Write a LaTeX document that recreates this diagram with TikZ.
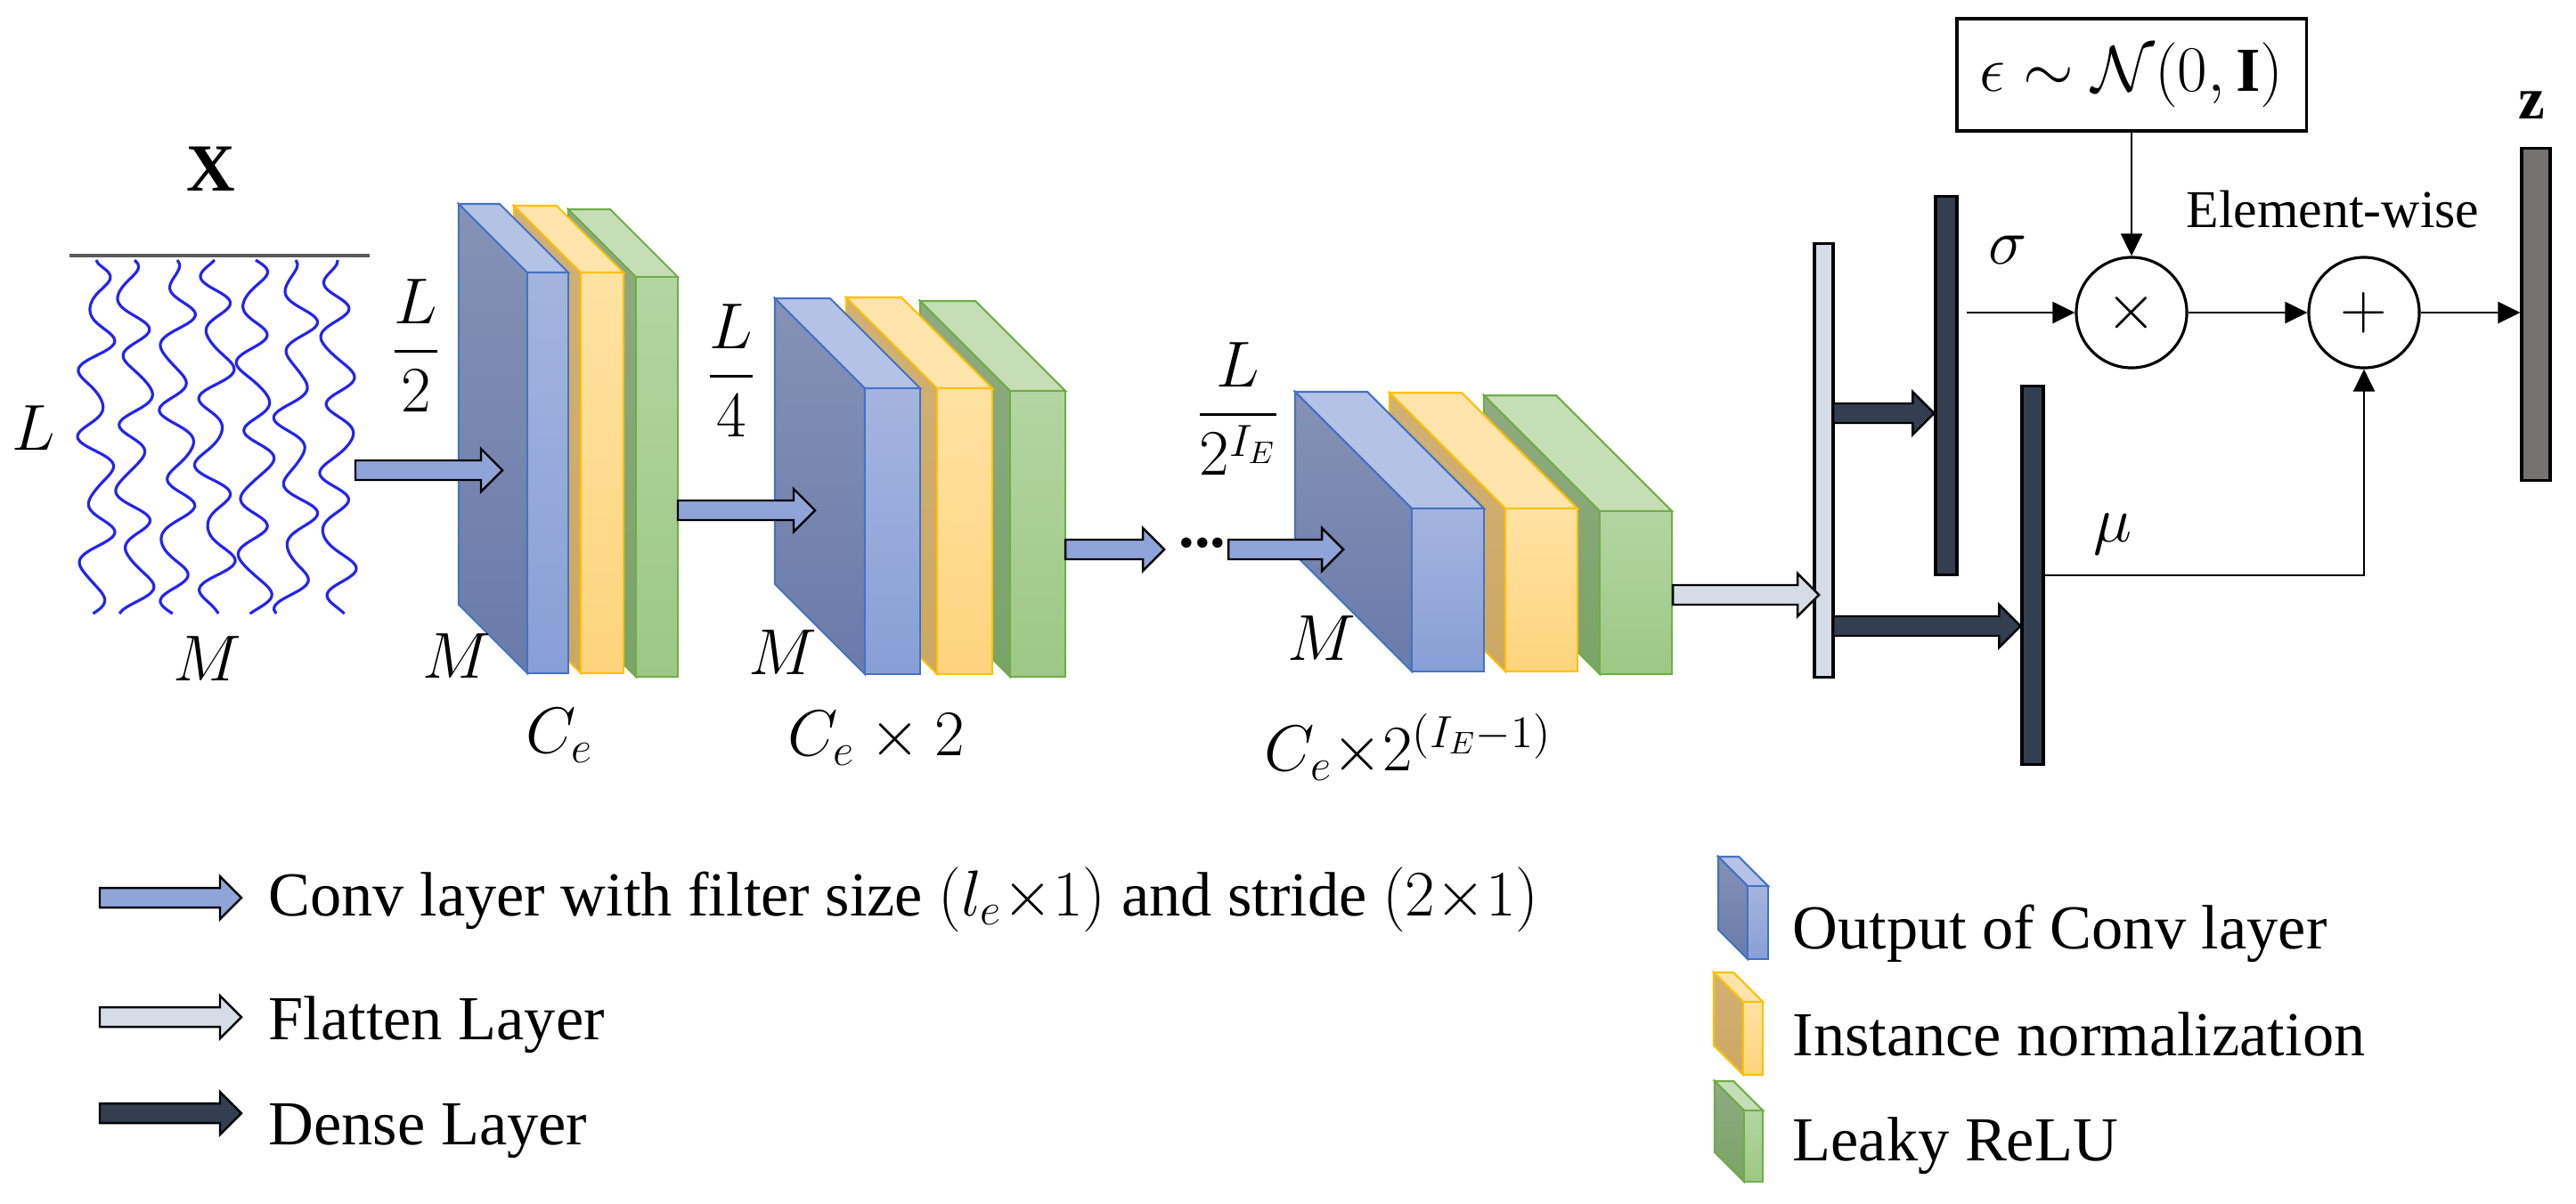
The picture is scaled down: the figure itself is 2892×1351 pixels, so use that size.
\documentclass[tikz,border=0pt]{standalone}
\usepackage{amsmath}
\usepackage{fontspec}
\setmainfont{Liberation Serif}
\usetikzlibrary{positioning,calc,arrows.meta}

\definecolor{bluefront1}{HTML}{A4B4DE}
\definecolor{bluefront2}{HTML}{889FD6}
\definecolor{blueside1}{HTML}{8592B5}
\definecolor{blueside2}{HTML}{6A7BAA}
\definecolor{bluetop}{HTML}{B4C3E5}
\definecolor{blueedge}{HTML}{4472C4}
\definecolor{yellowfront1}{HTML}{FFE2A2}
\definecolor{yellowfront2}{HTML}{FDD47C}
\definecolor{yellowside1}{HTML}{D1B075}
\definecolor{yellowside2}{HTML}{CCA862}
\definecolor{yellowtop}{HTML}{FFE4AB}
\definecolor{yellowedge}{HTML}{FFC000}
\definecolor{greenfront1}{HTML}{B3D5A2}
\definecolor{greenfront2}{HTML}{9CC885}
\definecolor{greenside1}{HTML}{8FAA82}
\definecolor{greenside2}{HTML}{7AA466}
\definecolor{greentop}{HTML}{C5DEB6}
\definecolor{greenedge}{HTML}{70AD47}
\definecolor{convfill}{HTML}{8FA5D9}
\definecolor{flatfill}{HTML}{D6DCE5}
\definecolor{densefill}{HTML}{333F50}
\definecolor{zfill}{HTML}{767171}
\definecolor{sigblue}{HTML}{2424EE}

\newcommand{\convslab}[6]{%
  \path[draw=#6edge, line width=0.6pt, top color=#6side1, bottom color=#6side2]
    (#1,#2) -- (#1-#5,#2-#5) -- (#1-#5,#2+#4-#5) -- (#1,#2+#4) -- cycle;
  \path[draw=#6edge, line width=0.6pt, fill=#6top]
    (#1,#2) -- (#1-#5,#2-#5) -- (#1+#3-#5,#2-#5) -- (#1+#3,#2) -- cycle;
  \path[draw=#6edge, line width=0.6pt, top color=#6front1, bottom color=#6front2]
    (#1,#2) rectangle (#1+#3,#2+#4);
}
\newcommand{\fatarrow}[3]{%
  \draw[line width=0.7pt, fill=#3] ($(#1)+(0,-11)$) -- ($(#2)+(-24,-11)$) -- ($(#2)+(-24,-24)$)
    -- (#2) -- ($(#2)+(-24,24)$) -- ($(#2)+(-24,11)$) -- ($(#1)+(0,11)$) -- cycle;
}

\begin{document}
\begin{tikzpicture}[x=0.01cm, y=-0.01cm,
  txt/.style={inner sep=0pt, font=\fontsize{20}{24}\selectfont},
  bar/.style={draw=black, line width=0.9pt, inner sep=0pt},
  op/.style={circle, draw, line width=0.9pt, minimum size=1.24cm, inner sep=0pt, font=\fontsize{20}{24}\selectfont},
  thin/.style={-{Triangle[length=2.5mm,width=2.4mm]}, line width=0.6pt}]
  \useasboundingbox (0,0) rectangle (2892,1351);

  \node[txt, font=\fontsize{21.5}{24}\selectfont] (xt) at (237,190) {\textbf{X}};
  \draw[line width=1.1pt, black!65] (78,287) -- (415,287);
  \foreach \sx/\p in {108/0,151/70,199/140,241/210,287/35,332/105,379/175}
    \draw[sigblue, line width=0.9pt] plot[smooth, variable=\t, domain=0:397, samples=90]
      ({\sx+(1-exp(-\t/12))*(16*sin(5*\t+\p)+3*sin(8.5*\t+2*\p)+6*sin(1.7*\t+3*\p))}, {292+\t});
  \node[txt] (xl) at (38,481) {$L$};
  \node[txt] (xm) at (233,740) {$M$};

  \convslab{714}{311}{47}{449}{76}{green}
  \convslab{652}{306}{48}{450}{75}{yellow}
  \convslab{592}{306}{46}{450}{77}{blue}
  \node[txt] (h1) at (467,388) {$\dfrac{L}{2}$};
  \node[txt] (m1) at (513,737) {$M$};
  \node[txt] (c1) at (628,826) {$C_e$};

  \convslab{1134}{439}{62}{321}{101}{green}
  \convslab{1052}{436}{62}{321}{102}{yellow}
  \convslab{971}{436}{62}{321}{101}{blue}
  \node[txt] (h2) at (821,416) {$\dfrac{L}{4}$};
  \node[txt] (m2) at (879,733) {$M$};
  \node[txt] (c2) at (984,829) {$C_e \times 2$};

  \convslab{1796}{574}{81}{183}{130}{green}
  \convslab{1690}{571}{81}{183}{130}{yellow}
  \convslab{1585}{571}{81}{183}{131}{blue}
  \node[txt] (h3) at (1390,459) {$\dfrac{L}{2^{I_E}}$};
  \node[txt] (m3) at (1484,717) {$M$};
  \node[txt] (c3) at (1581,839) {$C_e{\times}2^{(I_E-1)}$};

  \coordinate (a1) at (399,528);  \coordinate (b1) at (564,528);
  \coordinate (a2) at (761,573);  \coordinate (b2) at (915,573);
  \coordinate (a3) at (1196,617); \coordinate (b3) at (1307,617);
  \coordinate (a4) at (1379,617); \coordinate (b4) at (1508,617);
  \fatarrow{a1}{b1}{convfill}
  \fatarrow{a2}{b2}{convfill}
  \fatarrow{a3}{b3}{convfill}
  \fatarrow{a4}{b4}{convfill}
  \node[txt] (dots) at (1350,610) {\textbf{...}};

  \node[bar, fill=flatfill, minimum width=0.21cm, minimum height=4.86cm] (fl) at (2047.5,517) {};
  \node[bar, fill=densefill, minimum width=0.24cm, minimum height=4.24cm] (sg) at (2185,433) {};
  \node[bar, fill=densefill, minimum width=0.24cm, minimum height=4.24cm] (mu) at (2282,646) {};
  \node[bar, fill=zfill, minimum width=0.32cm, minimum height=3.72cm] (zb) at (2847,353) {};
  \node[txt, font=\fontsize{19}{22}\selectfont] (zl) at (2842,118) {\textbf{z}};

  \coordinate (fa) at (1878,668);
  \coordinate (fb) at (2042,668);
  \fatarrow{fa}{fb}{flatfill}
  \coordinate (d1) at (2058,464);
  \coordinate (d1e) at (d1 -| sg.west);
  \coordinate (d2) at (2058,703);
  \coordinate (d2e) at (d2 -| mu.west);
  \fatarrow{d1}{d1e}{densefill}
  \fatarrow{d2}{d2e}{densefill}

  \node[draw, line width=0.9pt, minimum width=3.92cm, minimum height=1.26cm, txt] (eps) at (2393,84) {$\epsilon\sim\mathcal{N}(0,\mathbf{I})$};
  \node[op] (mul) at (2393,351) {$\times$};
  \node[op] (add) at (2654,351) {$+$};
  \node[txt] (sl) at (2254,281) {$\sigma$};
  \node[txt] (ml) at (2372,600) {$\mu$};
  \node[txt, font=\fontsize{17}{20}\selectfont] (ew) at (2619,235) {Element-wise};
  \coordinate (s1) at (2208,351);

  \draw[thin] (eps) -- (mul);
  \draw[thin] (s1) -- (mul);
  \draw[thin] (mul) -- (add);
  \draw[thin] (add.east) -- (add.east -| zb.west);
  \draw[thin] (mu.east) -| (add.south);

  \coordinate (l1a) at (112,1008); \coordinate (l1b) at (271,1008);
  \coordinate (l2a) at (112,1142); \coordinate (l2b) at (271,1142);
  \coordinate (l3a) at (112,1250); \coordinate (l3b) at (271,1250);
  \fatarrow{l1a}{l1b}{convfill}
  \fatarrow{l2a}{l2b}{flatfill}
  \fatarrow{l3a}{l3b}{densefill}
  \node[txt, anchor=base west] (t1) at (301,1028) {Conv layer with filter size $(l_e{\times}1)$ and stride $(2{\times}1)$};
  \node[txt, anchor=base west] (t2) at (301,1167) {Flatten Layer};
  \node[txt, anchor=base west] (t3) at (301,1285) {Dense Layer};

  \convslab{1962}{995}{23}{82}{33}{blue}
  \convslab{1957}{1125}{22}{82}{33}{yellow}
  \convslab{1958}{1247}{21}{80}{33}{green}
  \node[txt, anchor=base west] (t4) at (2012,1065) {Output of Conv layer};
  \node[txt, anchor=base west] (t5) at (2012,1185) {Instance normalization};
  \node[txt, anchor=base west] (t6) at (2012,1303) {Leaky ReLU};
\end{tikzpicture}
\end{document}
